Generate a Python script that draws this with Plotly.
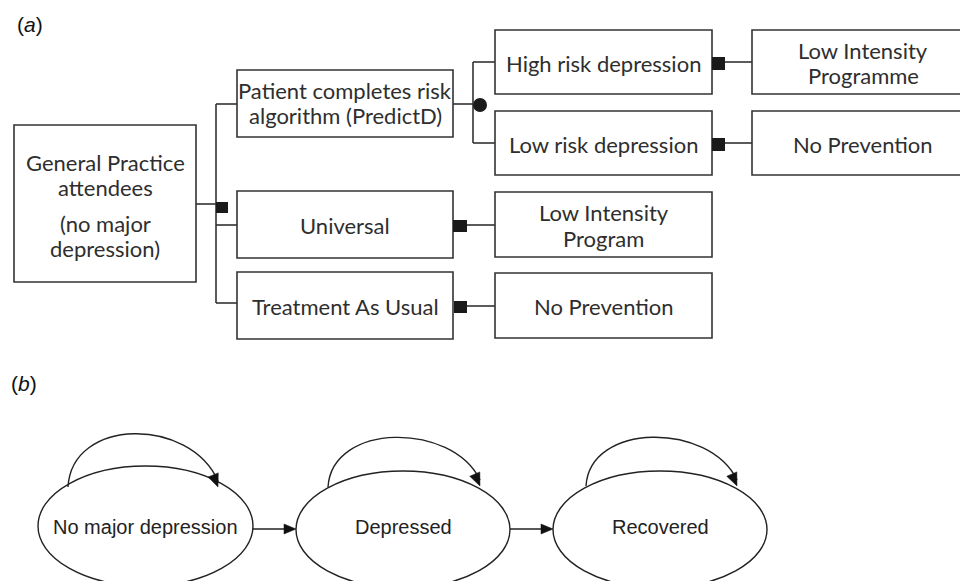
import math
import plotly.graph_objects as go

# ---------------- content ----------------
panel_labels = ["(<i>a</i>)", "(<i>b</i>)"]

# decision-tree boxes (panel a): label lines
box_names = ["gp", "patient", "universal", "tau", "high", "low", "lip1", "noprev1", "lip2", "noprev2"]
box_lines = [
    ["General Practice", "attendees", "", "(no major", "depression)"],
    ["Patient completes risk", "algorithm (PredictD)"],
    ["Universal"],
    ["Treatment As Usual"],
    ["High risk depression"],
    ["Low risk depression"],
    ["Low Intensity", "Programme"],
    ["No Prevention"],
    ["Low Intensity", "Program"],
    ["No Prevention"],
]

# Markov states (panel b)
state_labels = ["No major depression", "Depressed", "Recovered"]

# ---------------- geometry (pixels) ----------------
W, H = 960, 581
LINE = "#333333"
TXT_A = "#2e2e2e"
TXT_B = "#222222"
FONT_A = "Lato"
FONT_B = "Liberation Sans"

box_geom = {  # x0, x1, y0, y1
    "gp": (14, 196, 125, 282),
    "patient": (237, 453, 70, 137),
    "universal": (237, 453, 191, 258),
    "tau": (237, 453, 272, 339),
    "high": (495, 712, 30, 94),
    "low": (495, 712, 111, 175),
    "lip1": (752, 966, 30, 94),
    "noprev1": (752, 966, 111, 175),
    "lip2": (495, 712, 192, 257),
    "noprev2": (495, 712, 273, 338),
}
line_centers = {
    "gp": [162, 187, None, 223, 248],
    "patient": [90, 115],
    "universal": [225],
    "tau": [306],
    "high": [63],
    "low": [144],
    "lip1": [50, 75],
    "noprev1": [144],
    "lip2": [212, 238],
    "noprev2": [306],
}
text_cx = {"lip1": 863, "noprev1": 863}

shapes = []
annotations = []

def line(x0, y0, x1, y1, w=1.6):
    shapes.append(dict(type="line", x0=x0, y0=y0, x1=x1, y1=y1, xref="x", yref="y",
                       line=dict(color=LINE, width=w)))

def square(x0, x1, y0, y1):
    shapes.append(dict(type="rect", x0=x0, x1=x1, y0=y0, y1=y1, xref="x", yref="y",
                       fillcolor="#1a1a1a", line=dict(color="#1a1a1a", width=0)))

# boxes + text
for name, lines in zip(box_names, box_lines):
    x0, x1, y0, y1 = box_geom[name]
    shapes.append(dict(type="rect", x0=x0, x1=x1, y0=y0, y1=y1, xref="x", yref="y",
                       fillcolor="white", line=dict(color=LINE, width=1.6), layer="below"))
    cx = text_cx.get(name, (x0 + x1) / 2)
    for txt, cy in zip(lines, line_centers[name]):
        if not txt:
            continue
        annotations.append(dict(x=cx, y=cy, xref="x", yref="y", text=txt, showarrow=False,
                                xanchor="center", yanchor="middle",
                                font=dict(family=FONT_A, size=22, color=TXT_A)))

# connectors panel a
line(196, 204, 216, 204)
line(216, 104, 216, 303)
line(216, 104, 237, 104)
line(216, 225, 237, 225)
line(216, 303, 237, 303)
square(216, 228, 202, 213)

line(453, 104, 473, 104)
line(473, 62, 473, 143)
line(473, 62, 495, 62)
line(473, 143, 495, 143)
shapes.append(dict(type="circle", x0=473, x1=487, y0=98, y1=112, xref="x", yref="y",
                   fillcolor="#1a1a1a", line=dict(color="#1a1a1a", width=0)))

line(725, 62, 752, 62)
square(712, 725, 57, 70)
line(725, 143, 752, 143)
square(712, 725, 138, 151)

line(467, 225, 495, 225)
square(453, 467, 220, 232)
line(467, 306, 495, 306)
square(454, 467, 301, 313)

# ---------------- panel b ----------------
ell = [(38, 253, 466, 586), (296, 510, 471, 588), (553, 767, 471, 588)]
for (x0, x1, y0, y1), lab in zip(ell, state_labels):
    shapes.append(dict(type="circle", x0=x0, x1=x1, y0=y0, y1=y1, xref="x", yref="y",
                       fillcolor="rgba(0,0,0,0)", line=dict(color="#222222", width=1.4)))
    annotations.append(dict(x=(x0 + x1) / 2, y=527, xref="x", yref="y", text=lab, showarrow=False,
                            xanchor="center", yanchor="middle",
                            font=dict(family=FONT_B, size=20, color=TXT_B)))

def arrowhead(tx, ty, dx, dy, L=12, hw=5):
    n = math.hypot(dx, dy)
    ux, uy = dx / n, dy / n
    bx, by = tx - L * ux, ty - L * uy
    px, py = -uy, ux
    p = f"M {tx},{ty} L {bx + hw*px},{by + hw*py} L {bx - hw*px},{by - hw*py} Z"
    shapes.append(dict(type="path", path=p, xref="x", yref="y",
                       fillcolor="#111111", line=dict(color="#111111", width=0.5)))

# straight transitions
for (a, b) in [(0, 1), (1, 2)]:
    xs = ell[a][1]
    xe = ell[b][0]
    shapes.append(dict(type="line", x0=xs, y0=529, x1=xe - 8, y1=529, xref="x", yref="y",
                       line=dict(color="#222222", width=1.4)))
    arrowhead(xe, 529, 1, 0, L=12, hw=5)

# self loops (cubic beziers)
loops = [((68, 487), (72, 417), (190, 417), (218, 487)),
         ((328, 487), (332, 422), (452, 422), (480, 486)),
         ((586, 486), (590, 422), (709, 422), (737, 486))]
for p0, c1, c2, p3 in loops:
    path = f"M {p0[0]},{p0[1]} C {c1[0]},{c1[1]} {c2[0]},{c2[1]} {p3[0]},{p3[1] - 6}"
    shapes.append(dict(type="path", path=path, xref="x", yref="y",
                       line=dict(color="#222222", width=1.4)))
    arrowhead(p3[0], p3[1], p3[0] - c2[0], p3[1] - c2[1], L=13, hw=5.5)

# panel labels
for lab, (x, y) in zip(panel_labels, [(30, 24), (24, 383)]):
    annotations.append(dict(x=x, y=y, xref="x", yref="y", text=lab, showarrow=False,
                            xanchor="center", yanchor="middle",
                            font=dict(family=FONT_B, size=21, color="#111111")))

fig = go.Figure()
fig.update_layout(
    width=W, height=H, margin=dict(l=0, r=0, t=0, b=0),
    paper_bgcolor="white", plot_bgcolor="white",
    xaxis=dict(range=[0, W], visible=False, fixedrange=True),
    yaxis=dict(range=[H, 0], visible=False, fixedrange=True),
    shapes=shapes, annotations=annotations, showlegend=False,
)
fig.write_html("out.html", config={"displayModeBar": False},
               post_script="document.body.style.margin='0px';document.body.style.overflow='hidden';")
